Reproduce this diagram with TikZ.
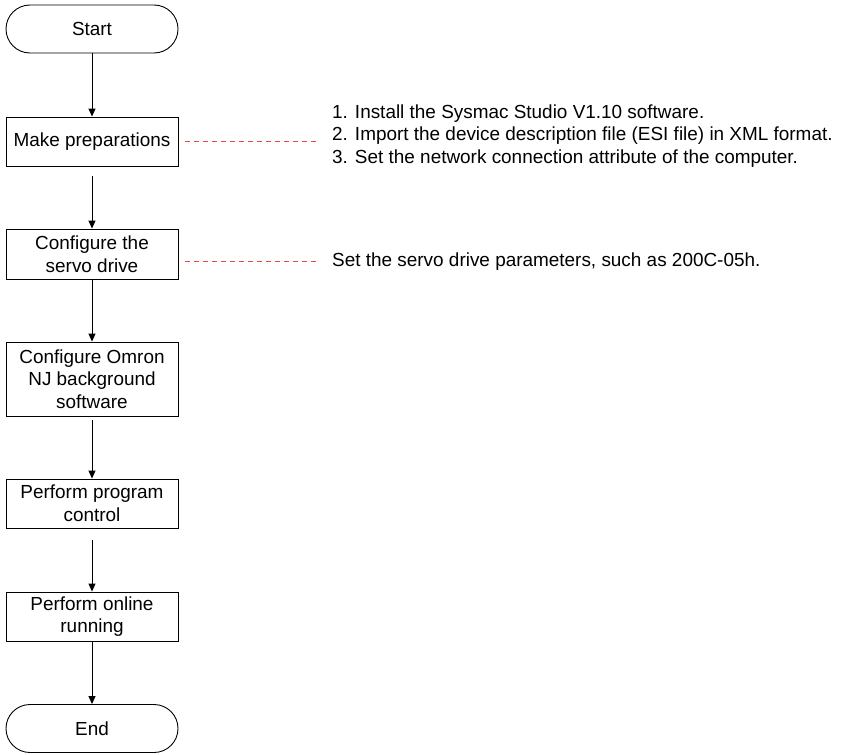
\documentclass[tikz,border=0pt]{standalone}
\usepackage{fontspec}
\setmainfont{Liberation Sans}
\usetikzlibrary{arrows.meta}
\definecolor{linkred}{RGB}{240,70,70}

\begin{document}
\begin{tikzpicture}[x=1bp,y=-1bp,
  every node/.style={font=\fontsize{19}{22.75}\selectfont},
  stepbox/.style={draw,line width=0.9bp,minimum width=172bp,align=center,inner sep=0pt},
  termbox/.style={stepbox,rounded corners=24bp,minimum height=48bp},
  flow/.style={line width=0.9bp,-{Triangle[length=8bp,width=7bp]}},
  notelink/.style={draw=linkred,line width=1bp,dash pattern=on 5bp off 4bp},
  note/.style={anchor=west,align=left,inner sep=0pt}]
\path[use as bounding box] (0,0) rectangle (842,755);
% flow steps
\node[termbox] (start) at (92,29) {Start};
\node[stepbox,minimum height=49bp] (prep) at (92,141.5) {Make preparations};
\node[stepbox,minimum height=50bp] (servo) at (92,254) {Configure the\\servo drive};
\node[stepbox,minimum height=74bp] (omron) at (92,379) {Configure Omron\\NJ background\\software};
\node[stepbox,minimum height=49bp] (prog) at (92,503.5) {Perform program\\control};
\node[stepbox,minimum height=49bp] (online) at (92,616.5) {Perform online\\running};
\node[termbox] (finish) at (92,728.5) {End};
% notes
\node[note] (prepnote) at (332,136) {1. Install the Sysmac Studio V1.10 software.\\2. Import the device description file (ESI file) in XML format.\\3. Set the network connection attribute of the computer.};
\node[note] (servonote) at (332,261.5) {Set the servo drive parameters, such as 200C-05h.};
% connectors
\draw[flow] (start) -- (prep);
\draw[flow,shorten <=10bp] (prep) -- (servo);
\draw[flow] (servo) -- (omron);
\draw[flow,shorten <=4bp] (omron) -- (prog);
\draw[flow,shorten <=12bp] (prog) -- (online);
\draw[flow] (online) -- (finish);
\draw[notelink,shorten <=7bp,shorten >=16bp] (prep.east) -- (prep.east -| prepnote.west);
\draw[notelink,shorten <=7bp,shorten >=16bp] (servo.east |- servonote.west) -- (servonote.west);
\end{tikzpicture}
\end{document}
